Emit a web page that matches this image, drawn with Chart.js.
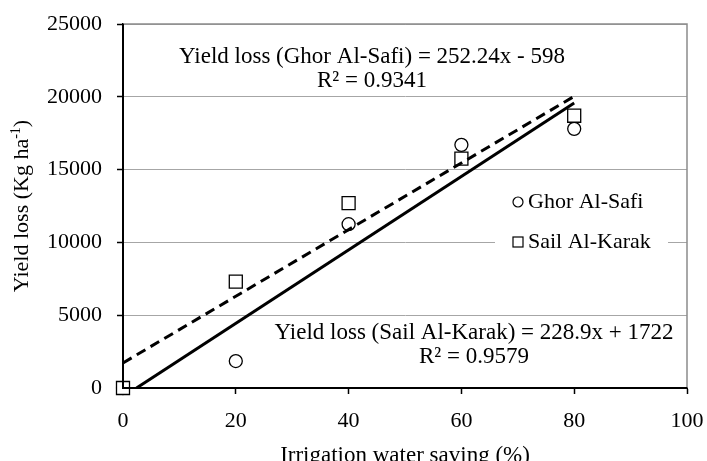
<!DOCTYPE html>
<html lang="en">
  <head>
    <meta charset="utf-8">
    <title>Yield loss vs irrigation water saving</title>
    <script src="https://cdn.jsdelivr.net/npm/chart.js"></script>
    <style>
      html, body {
        margin: 0;
        padding: 0;
        background: #fff;
      }
    </style>
  </head>
  <body>
    <canvas id="yieldChart" width="707" height="461"></canvas>

    <script>
      const FONT = "'Liberation Serif', 'Times New Roman', serif";
      const SIZE = 22;

      // Data
      const saving = [0, 20, 40, 60, 80];
      const ghorLoss = [0, 1850, 11250, 16700, 17800];
      const sailLoss = [0, 7300, 12700, 15750, 18700];

      // Trend line end points (x, y)
      const ghorTrendX = [2.4, 80];
      const ghorTrendY = [0, 19580];
      const sailTrendX = [0, 80];
      const sailTrendY = [1722, 20034];

      const ghorEquation = ["Yield loss (Ghor Al-Safi) = 252.24x - 598", "R² = 0.9341"];
      const sailEquation = ["Yield loss (Sail Al-Karak) = 228.9x + 1722", "R² = 0.9579"];

      const xTitle = "Irrigation water saving (%)";
      const yTitle = ["Yield loss (Kg ha", "-1", ")"];

      let points = (xs, ys) => xs.map((x, i) => ({x, y: ys[i]}));

      const extras = {
        id: "extras",
        beforeDatasetsDraw(chart) {
          // legend box hides the grid line behind it
          const {ctx} = chart;
          ctx.save();
          ctx.fillStyle = "#fff";
          ctx.fillRect(495, 184, 173, 72);
          ctx.restore();
        },
        afterDatasetsDraw(chart) {
          const {ctx, chartArea: a} = chart;
          ctx.save();

          // frame: grey top / right, black axes drawn over the markers
          ctx.strokeStyle = "#8c8c8c";
          ctx.lineWidth = 1.5;
          ctx.beginPath();
          ctx.moveTo(a.left, a.top);
          ctx.lineTo(a.right, a.top);
          ctx.lineTo(a.right, a.bottom);
          ctx.stroke();
          ctx.strokeStyle = "#000";
          ctx.lineWidth = 2;
          ctx.beginPath();
          ctx.moveTo(a.left, a.top);
          ctx.lineTo(a.left, a.bottom);
          ctx.lineTo(a.right, a.bottom);
          ctx.stroke();

          // legend
          ctx.font = SIZE + "px " + FONT;
          ctx.fillStyle = "#000";
          ctx.textBaseline = "middle";
          ctx.textAlign = "left";
          ctx.lineWidth = 1.2;
          const ds = chart.data.datasets;
          ctx.beginPath();
          ctx.arc(518, 202, 5, 0, Math.PI * 2);
          ctx.stroke();
          ctx.fillText(ds[0].label, 528, 202);
          ctx.strokeRect(513, 237, 10, 10);
          ctx.fillText(ds[1].label, 528, 242);

          // regression equations
          ctx.font = "23px " + FONT;
          ctx.textAlign = "center";
          ctx.fillText(ghorEquation[0], 372, 57);
          ctx.fillText(ghorEquation[1], 372, 81);
          ctx.fillText(sailEquation[0], 474, 333);
          ctx.fillText(sailEquation[1], 474, 357);

          // y axis title with superscript
          const big = SIZE + "px " + FONT;
          const small = "14px " + FONT;
          ctx.font = big;
          const w0 = ctx.measureText(yTitle[0]).width;
          const w2 = ctx.measureText(yTitle[2]).width;
          ctx.font = small;
          const w1 = ctx.measureText(yTitle[1]).width;
          const total = w0 + w1 + w2;
          ctx.translate(22, (a.top + a.bottom) / 2);
          ctx.rotate(-Math.PI / 2);
          ctx.textAlign = "left";
          let x = -total / 2;
          ctx.font = big;
          ctx.fillText(yTitle[0], x, 0);
          x += w0;
          ctx.font = small;
          ctx.fillText(yTitle[1], x, -6);
          x += w1;
          ctx.font = big;
          ctx.fillText(yTitle[2], x, 0);

          ctx.restore();
        }
      };

      Chart.defaults.font.family = FONT;
      Chart.defaults.font.size = SIZE;
      Chart.defaults.color = "#000";

      new Chart(document.getElementById("yieldChart"), {
        type: "scatter",
        data: {
          datasets: [
            {
              label: "Ghor Al-Safi",
              data: points(saving, ghorLoss),
              pointStyle: "circle",
              pointRadius: 6.5,
              pointBorderWidth: 1.3,
              borderColor: "#000",
              backgroundColor: "#fff",
              clip: false,
              order: 2
            },
            {
              label: "Sail Al-Karak",
              data: points(saving, sailLoss),
              pointStyle: "rect",
              pointRadius: 9.2,
              pointBorderWidth: 1.3,
              borderColor: "#000",
              backgroundColor: "#fff",
              clip: false,
              order: 1
            },
            {
              label: "Linear (Ghor Al-Safi)",
              data: points(ghorTrendX, ghorTrendY),
              showLine: true,
              pointRadius: 0,
              borderColor: "#000",
              borderWidth: 3,
              order: 0
            },
            {
              label: "Linear (Sail Al-Karak)",
              data: points(sailTrendX, sailTrendY),
              showLine: true,
              pointRadius: 0,
              borderColor: "#000",
              borderWidth: 3,
              borderDash: [10, 6],
              order: 0
            }
          ]
        },
        options: {
          responsive: false,
          animation: false,
          layout: { padding: { top: 24, right: 20, left: 0, bottom: 0 } },
          plugins: {
            legend: { display: false },
            tooltip: { enabled: false }
          },
          scales: {
            x: {
              min: 0,
              max: 100,
              ticks: { stepSize: 20, padding: 14, maxRotation: 0, callback: v => String(v) },
              grid: { drawOnChartArea: false, tickLength: 6, tickColor: "#000", tickWidth: 1.5 },
              border: { color: "#000", width: 2 },
              title: {
                display: true,
                text: xTitle,
                font: { size: 23, lineHeight: "10px" },
                padding: 0
              },
              afterFit: scale => {
                scale.height = 73;
                scale.paddingRight = 0;
              }
            },
            y: {
              min: 0,
              max: 25000,
              ticks: { stepSize: 5000, padding: 15, callback: v => String(v) },
              grid: { color: "#a6a6a6", lineWidth: 1, tickLength: 6, tickColor: "#000", tickWidth: 1.5 },
              border: { color: "#000", width: 2 },
              afterFit: scale => {
                scale.width = 123;
                scale.paddingTop = 0;
              }
            }
          }
        },
        plugins: [extras]
      });
    </script>
  </body>
</html>
